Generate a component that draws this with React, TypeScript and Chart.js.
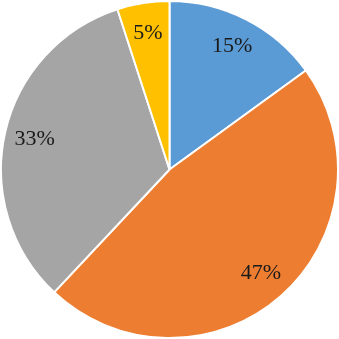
import React, { useEffect, useRef } from "react";
import { Chart, registerables } from "chart.js";

Chart.register(...registerables);

const categories = ["A", "B", "C", "D"];
const values = [15, 47, 33, 5];
const labels = ["15%", "47%", "33%", "5%"];
const colors = ["#5B9BD5", "#ED7D31", "#A5A5A5", "#FFC000"];

const labelPlugin = {
  id: "sliceLabels",
  afterDatasetsDraw(chart: any) {
    const ctx = chart.ctx;
    const meta = chart.getDatasetMeta(0);
    ctx.save();
    ctx.font = '22px "Liberation Serif", "Times New Roman", serif';
    ctx.fillStyle = "#1a1a1a";
    ctx.textAlign = "center";
    ctx.textBaseline = "middle";
    meta.data.forEach((arc: any, i: number) => {
      const { x, y, startAngle, endAngle, outerRadius } = arc.getProps(
        ["x", "y", "startAngle", "endAngle", "outerRadius"],
        true
      );
      const mid = (startAngle + endAngle) / 2;
      const r = outerRadius * 0.82;
      ctx.fillText(labels[i], x + Math.cos(mid) * r, y + Math.sin(mid) * r);
    });
    ctx.restore();
  },
};

export default function App() {
  const ref = useRef<HTMLCanvasElement>(null);
  useEffect(() => {
    document.body.style.margin = "0";
    const chart = new Chart(ref.current!, {
      type: "pie",
      data: {
        labels: categories,
        datasets: [
          {
            data: values,
            backgroundColor: colors,
            borderColor: "#ffffff",
            borderWidth: 2,
          },
        ],
      },
      options: {
        animation: false,
        responsive: false,
        layout: { padding: 0 },
        plugins: { legend: { display: false }, tooltip: { enabled: false } },
      },
      plugins: [labelPlugin],
    });
    return () => chart.destroy();
  }, []);
  return (
    <div style={{ width: 339, height: 339, background: "#fff" }}>
      <canvas ref={ref} width={339} height={339} style={{ display: "block" }} />
    </div>
  );
}
